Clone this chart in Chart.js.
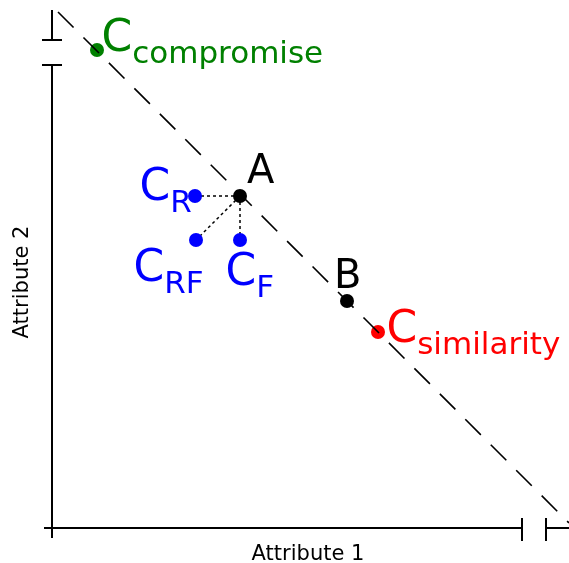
<!DOCTYPE html>
<html>
<head>
<meta charset="utf-8">
<script src="https://cdn.jsdelivr.net/npm/chart.js@4.4.0/dist/chart.umd.min.js"></script>
<style>
    html, body { margin: 0; padding: 0; background: #fff; }
    canvas { display: block; }
</style>
</head>
<body>
<canvas id="chart" width="569" height="563"></canvas>
<script>
// Points in attribute space (origin at the axes corner)
const pointNames = ['compromise', 'A', 'R', 'RF', 'F', 'B', 'similarity'];
const pointX = [45, 188, 143, 144, 188, 295, 326];
const pointY = [478, 332, 332, 288, 288, 227, 196];
const pointColors = ['#008000', '#000000', '#0000ff', '#0000ff', '#0000ff', '#000000', '#ff0000'];

// Indifference line
const diagX = [6, 517];
const diagY = [516, 5];

// Broken axes
const xAxisX = [-8, 470];
const xAxisY = [0, 0];
const xBreakX = [494, 517];
const yAxisX = [0, 0];
const yAxisY = [-10, 463];
const yBreakY = [488, 518];

const xLabel = 'Attribute 1';
const yLabel = 'Attribute 2';

function pts(xs, ys) {
    return xs.map((x, i) => ({ x: x, y: ys[i] }));
}

function lineSet(data, opts) {
    return Object.assign({
        data: data, showLine: true, borderColor: '#000', borderWidth: 2,
        pointRadius: 0, fill: false, clip: false
    }, opts || {});
}

const A = 1;
const links = [2, 3, 4].map(i => lineSet(pts([pointX[A], pointX[i]], [pointY[A], pointY[i]]), { borderWidth: 1.5, borderDash: [3, 3] }));

// label placement relative to each point, in pixels
const labelStyle = {
    compromise: { main: 'C', sub: 'compromise', dx: 4.5, dy: 1 },
    R: { main: 'C', sub: 'R', dx: -55.5, dy: 4 },
    RF: { main: 'C', sub: 'RF', dx: -62.5, dy: 41 },
    F: { main: 'C', sub: 'F', dx: -14.5, dy: 45 },
    similarity: { main: 'C', sub: 'similarity', dx: 8.5, dy: 10 },
    A: { main: 'A', dx: 7, dy: -13, big: true },
    B: { main: 'B', dx: -13, dy: -13, big: true }
};

const labelPlugin = {
    id: 'labels',
    afterDatasetsDraw(chart) {
        const ctx = chart.ctx;
        const xs = chart.scales.x, ys = chart.scales.y;
        ctx.save();
        ctx.textBaseline = 'alphabetic';
        ctx.textAlign = 'left';
        pointNames.forEach((name, i) => {
            const s = labelStyle[name];
            const px = xs.getPixelForValue(pointX[i]) + s.dx;
            const py = ys.getPixelForValue(pointY[i]) + s.dy;
            ctx.fillStyle = pointColors[i];
            ctx.font = s.big ? '40px "DejaVu Sans"' : '44px "DejaVu Sans"';
            ctx.fillText(s.main, px, py);
            if (s.sub) {
                const w = ctx.measureText(s.main).width;
                ctx.font = '31px "DejaVu Sans"';
                ctx.fillText(s.sub, px + w, py + 12);
            }
        });

        ctx.fillStyle = '#000';
        ctx.font = '21px "DejaVu Sans"';
        ctx.textAlign = 'center';
        ctx.fillText(xLabel, xs.getPixelForValue(256), 560);
        ctx.translate(28, ys.getPixelForValue(246));
        ctx.rotate(-Math.PI / 2);
        ctx.fillText(yLabel, 0, 0);
        ctx.restore();
    }
};

new Chart(document.getElementById('chart'), {
    type: 'scatter',
    data: {
        datasets: [
            lineSet(pts(diagX, diagY), { borderWidth: 1.6, borderDash: [22, 14] }),
            {
                data: pts(pointX, pointY),
                backgroundColor: pointColors, borderColor: pointColors,
                pointRadius: 7, borderWidth: 0, clip: false
            },
            ...links,
            lineSet(pts(xAxisX, xAxisY)),
            lineSet(pts([xAxisX[1], xAxisX[1]], [10, -13])),
            lineSet(pts(xBreakX, xAxisY)),
            lineSet(pts([xBreakX[0], xBreakX[0]], [10, -13])),
            lineSet(pts(yAxisX, yAxisY)),
            lineSet(pts([-10, 10], [yAxisY[1], yAxisY[1]])),
            lineSet(pts(yAxisX, yBreakY)),
            lineSet(pts([-10, 10], [yBreakY[0], yBreakY[0]]))
        ]
    },
    options: {
        responsive: false,
        animation: false,
        layout: { padding: 0, autoPadding: false },
        plugins: { legend: { display: false }, tooltip: { enabled: false } },
        scales: {
            x: { type: 'linear', min: -52, max: 517, display: false },
            y: { type: 'linear', min: -35, max: 528, display: false }
        }
    },
    plugins: [labelPlugin]
});
</script>
</body>
</html>
